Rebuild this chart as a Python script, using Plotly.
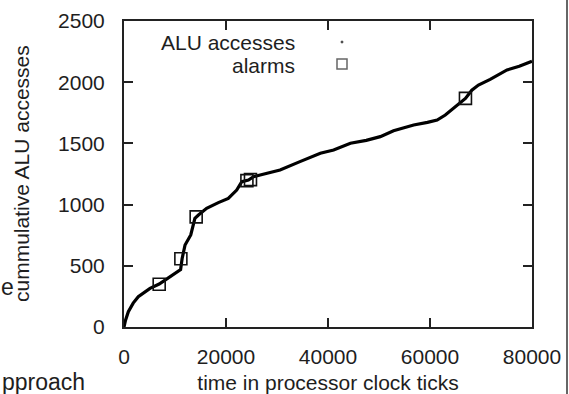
import plotly.graph_objects as go

# data
t_ticks = [0, 300, 850, 1800, 2800, 4000, 5100, 6900, 9000, 10700, 11100, 11400,
           11970, 13090, 13900, 14600, 16200, 18500, 20450, 22100, 23100, 24400,
           25400, 26700, 28700, 30600, 34500, 38500, 41100, 44400, 47500, 50250,
           52850, 56800, 59500, 61400, 63000, 65000, 66950, 68200, 69500, 71800,
           75100, 77500, 79700, 80000]
alu_cum = [0, 55, 125, 195, 248, 285, 316, 351, 411, 452, 470, 560,
           670, 752, 888, 915, 970, 1016, 1051, 1119, 1187, 1201,
           1228, 1242, 1262, 1283, 1351, 1419, 1446, 1501, 1525, 1555,
           1604, 1650, 1672, 1691, 1732, 1800, 1868, 1935, 1977, 2023,
           2100, 2130, 2168, 2172]
alarm_t = [6900, 11150, 14150, 24100, 24800, 66950]
alarm_y = [349, 558, 900, 1196, 1204, 1868]

x_tickvals = [0, 20000, 40000, 60000, 80000]
y_tickvals = [0, 500, 1000, 1500, 2000, 2500]

W, H = 569, 394
L, R, T, B = 124, 37, 21, 67
pw, ph = W - L - R, H - T - B

def px(x):
    return (x - L) / pw

def py(y):
    return (H - B - y) / ph

FONT = "Liberation Sans, Arial, sans-serif"
TXT = "#1e1e1e"

fig = go.Figure()
fig.add_trace(go.Scatter(x=t_ticks, y=alu_cum, mode="lines",
                         line=dict(color="black", width=3.2), showlegend=False,
                         hoverinfo="skip"))
fig.add_trace(go.Scatter(x=alarm_t, y=alarm_y, mode="markers",
                         marker=dict(symbol="square-open", size=12, color="#111",
                                     line=dict(width=1.6, color="#111")),
                         showlegend=False))

axis_common = dict(showline=True, linecolor="#222", linewidth=2, mirror="ticks",
                   ticks="inside", ticklen=9, tickwidth=2, tickcolor="#222",
                   showgrid=False, zeroline=False, automargin=False,
                   tickfont=dict(family=FONT, size=21, color=TXT))
fig.update_xaxes(range=[0, 80000], tickvals=x_tickvals,
                 ticktext=[str(v) for v in x_tickvals],
                 title=dict(text="time in processor clock ticks",
                            font=dict(family=FONT, size=21, color=TXT), standoff=14),
                 ticklabelstandoff=10, **axis_common)
fig.update_yaxes(range=[0, 2500], tickvals=y_tickvals,
                 ticktext=[str(v) for v in y_tickvals],
                 ticklabelstandoff=13, **axis_common)

annotations = [
    dict(x=px(21), y=0.5, xref="paper", yref="paper", text="cummulative ALU accesses",
         textangle=-90, xanchor="center", yanchor="middle", showarrow=False,
         font=dict(family=FONT, size=21, color=TXT)),
    dict(x=px(297), y=py(43), xref="paper", yref="paper", text="ALU accesses",
         xanchor="right", yanchor="middle", showarrow=False,
         font=dict(family=FONT, size=21, color=TXT)),
    dict(x=px(297), y=py(65), xref="paper", yref="paper", text="alarms",
         xanchor="right", yanchor="middle", showarrow=False,
         font=dict(family=FONT, size=21, color=TXT)),
    dict(x=px(-1), y=py(287), xref="paper", yref="paper", text="e",
         xanchor="left", yanchor="middle", showarrow=False,
         font=dict(family=FONT, size=23, color=TXT)),
    dict(x=px(0), y=py(382), xref="paper", yref="paper", text="pproach",
         xanchor="left", yanchor="middle", showarrow=False,
         font=dict(family=FONT, size=23, color=TXT)),
]

shapes = [
    dict(type="rect", xref="paper", yref="paper",
         x0=px(337), x1=px(347), y0=py(59), y1=py(69),
         line=dict(color="#666", width=1.5)),
    dict(type="circle", xref="paper", yref="paper",
         x0=px(341), x1=px(343), y0=py(41), y1=py(43),
         line=dict(color="#444", width=1), fillcolor="#444"),
    dict(type="line", xref="paper", yref="paper",
         x0=px(567), x1=px(567), y0=py(H), y1=py(0),
         line=dict(color="#333", width=1.5)),
]

fig.update_layout(width=W, height=H, margin=dict(l=L, r=R, t=T, b=B),
                  paper_bgcolor="white", plot_bgcolor="white",
                  annotations=annotations, shapes=shapes, showlegend=False)

fig.write_html("out.html")
